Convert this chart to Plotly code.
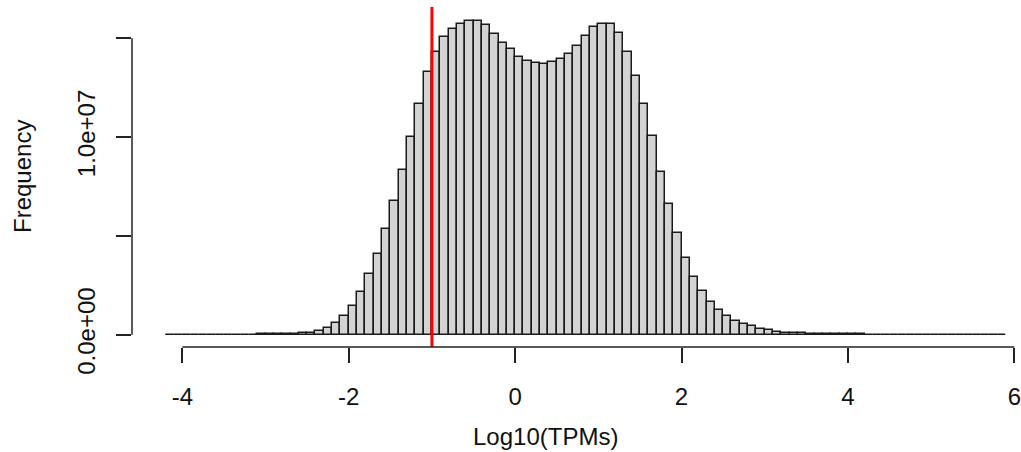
import plotly.graph_objects as go

# Histogram of log10(TPM): bins of width 0.1 starting at -4.2
bin_start = -4.2
bin_width = 0.1
counts_millions = [
    # -4.2 .. -2.9
    0.001, 0.001, 0.001, 0.001, 0.002, 0.002, 0.003, 0.004, 0.005, 0.007,
    0.009, 0.012, 0.016, 0.022,
    # -2.8 .. -1.9
    0.03, 0.045, 0.07, 0.11, 0.18, 0.33, 0.58, 0.95, 1.47, 2.18,
    # -1.8 .. -0.9
    3.06, 4.08, 5.33, 6.77, 8.32, 10.02, 11.69, 13.28, 14.29, 15.07,
    # -0.8 .. 0.1
    15.49, 15.71, 15.89, 15.89, 15.66, 15.20, 14.76, 14.44, 14.05, 13.87,
    # 0.2 .. 1.1
    13.75, 13.68, 13.79, 13.95, 14.22, 14.63, 15.12, 15.57, 15.74, 15.74,
    # 1.2 .. 2.1
    15.28, 14.32, 13.11, 11.66, 10.04, 8.25, 6.60, 5.13, 3.87, 2.94,
    # 2.2 .. 3.1
    2.21, 1.65, 1.25, 0.95, 0.71, 0.55, 0.43, 0.31, 0.23, 0.16,
    # 3.2 .. 4.1
    0.11, 0.085, 0.062, 0.046, 0.035, 0.027, 0.021, 0.017, 0.014, 0.011,
    # 4.2 .. 5.1
    0.009, 0.008, 0.007, 0.006, 0.005, 0.004, 0.004, 0.003, 0.003, 0.002,
    # 5.2 .. 5.8
    0.002, 0.002, 0.001, 0.001, 0.001, 0.001, 0.001,
]
cutoff = -1.0

x_tick_vals = [-4, -2, 0, 2, 4, 6]
x_tick_text = ["-4", "-2", "0", "2", "4", "6"]
y_tick_vals = [0, 5e6, 1e7, 1.5e7]
y_tick_text = ["0.0e+00", "", "1.0e+07", ""]
x_title = "Log10(TPMs)"
y_title = "Frequency"

centers = [round(bin_start + bin_width * (i + 0.5), 3) for i in range(len(counts_millions))]
counts = [c * 1e6 for c in counts_millions]

FONT = "Liberation Sans, Arial, Helvetica, sans-serif"

fig = go.Figure()
fig.add_trace(go.Bar(
    x=centers, y=counts, width=bin_width,
    marker=dict(color="#d3d3d3", line=dict(color="#1a1a1a", width=1.5)),
    hoverinfo="x+y", showlegend=False,
))

fig.add_shape(type="line", xref="x", yref="paper", x0=cutoff, x1=cutoff, y0=0, y1=1,
              line=dict(color="#ff0000", width=3))
# axis lines spanning only the tick range (R style)
fig.add_shape(type="line", xref="x", yref="paper", x0=x_tick_vals[0], x1=x_tick_vals[-1], y0=0, y1=0,
              line=dict(color="#222222", width=1.5))
fig.add_shape(type="line", xref="paper", yref="y", x0=0, x1=0, y0=y_tick_vals[0], y1=y_tick_vals[-1],
              line=dict(color="#222222", width=1.5))

fig.add_annotation(text=x_title, xref="paper", yref="paper", x=0.4646, y=0, yshift=-89,
                   xanchor="center", yanchor="middle", showarrow=False,
                   font=dict(family=FONT, size=24, color="#111111"))
fig.add_annotation(text=y_title, xref="paper", yref="paper", x=0, y=0.5, xshift=-110,
                   xanchor="center", yanchor="middle", textangle=-90, showarrow=False,
                   font=dict(family=FONT, size=24, color="#111111"))

fig.update_layout(
    width=1021, height=452,
    margin=dict(l=132, r=0, t=7, b=105),
    paper_bgcolor="white", plot_bgcolor="white",
    bargap=0,
    font=dict(family=FONT, size=24, color="#111111"),
    xaxis=dict(range=[-4.605, 6.08], tickvals=x_tick_vals, ticktext=x_tick_text,
               ticks="outside", ticklen=15, tickwidth=1.5, tickcolor="#222222",
               showgrid=False, zeroline=False, showline=False,
               ticklabeloverflow="allow",
               ticklabelstandoff=13, tickfont=dict(family=FONT, size=24, color="#111111")),
    yaxis=dict(range=[-0.622e6, 16.58e6], tickvals=y_tick_vals, ticktext=y_tick_text,
               ticks="outside", ticklen=15, tickwidth=1.5, tickcolor="#222222",
               showgrid=False, zeroline=False, showline=False, tickangle=-90,
               ticklabelstandoff=11, tickfont=dict(family=FONT, size=24, color="#111111")),
)

fig.write_html("out.html")
